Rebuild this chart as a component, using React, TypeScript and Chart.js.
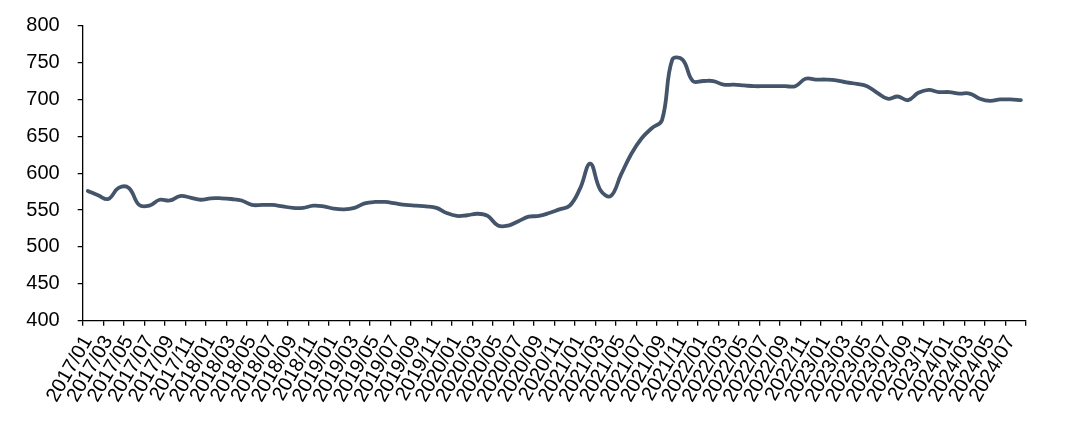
import React, { useEffect, useRef } from "react";
import { Chart, registerables } from "chart.js";

Chart.register(...registerables);

const categories: string[] = [
  "2017/01","2017/02","2017/03","2017/04","2017/05","2017/06","2017/07","2017/08","2017/09","2017/10","2017/11","2017/12",
  "2018/01","2018/02","2018/03","2018/04","2018/05","2018/06","2018/07","2018/08","2018/09","2018/10","2018/11","2018/12",
  "2019/01","2019/02","2019/03","2019/04","2019/05","2019/06","2019/07","2019/08","2019/09","2019/10","2019/11","2019/12",
  "2020/01","2020/02","2020/03","2020/04","2020/05","2020/06","2020/07","2020/08","2020/09","2020/10","2020/11","2020/12",
  "2021/01","2021/02","2021/03","2021/04","2021/05","2021/06","2021/07","2021/08","2021/09","2021/10","2021/11","2021/12",
  "2022/01","2022/02","2022/03","2022/04","2022/05","2022/06","2022/07","2022/08","2022/09","2022/10","2022/11","2022/12",
  "2023/01","2023/02","2023/03","2023/04","2023/05","2023/06","2023/07","2023/08","2023/09","2023/10","2023/11","2023/12",
  "2024/01","2024/02","2024/03","2024/04","2024/05","2024/06","2024/07","2024/08",
];

const values2017 = [576, 570, 565, 580, 580, 557, 556, 564, 563, 569, 567, 564];
const values2018 = [566, 566, 565, 563, 557, 557, 557, 555, 553, 553, 556, 555];
const values2019 = [552, 551, 553, 559, 561, 561, 559, 557, 556, 555, 553, 546];
const values2020 = [542, 543, 545, 542, 529, 529, 535, 541, 542, 546, 551, 556];
const values2021 = [579, 613, 577, 569, 598, 626, 647, 661, 672, 754, 754, 725];
const values2022 = [725, 725, 720, 720, 719, 718, 718, 718, 718, 718, 728, 727];
const values2023 = [727, 726, 723, 721, 718, 709, 701, 704, 699, 709, 713, 710];
const values2024 = [710, 708, 708, 701, 698, 700, 700, 699];

const seriesValues = [
  ...values2017, ...values2018, ...values2019, ...values2020,
  ...values2021, ...values2022, ...values2023, ...values2024,
];

const yMin = 400;
const yMax = 800;
const yStep = 50;

export default function App() {
  const ref = useRef<HTMLCanvasElement | null>(null);

  useEffect(() => {
    if (!ref.current) return;
    Chart.defaults.font.family = "'Liberation Sans', Arial, sans-serif";
    const chart = new Chart(ref.current, {
      type: "line",
      data: {
        labels: categories,
        datasets: [
          {
            data: seriesValues,
            borderColor: "#44546A",
            borderWidth: 3.8,
            pointRadius: 0,
            tension: 0.4,
            borderCapStyle: "round",
            borderJoinStyle: "round",
            fill: false,
          },
        ],
      },
      options: {
        animation: false,
        responsive: true,
        maintainAspectRatio: false,
        layout: { padding: { top: 17.7, right: 46, left: 0, bottom: 0 } },
        plugins: { legend: { display: false }, tooltip: { enabled: false } },
        scales: {
          x: {
            type: "category",
            offset: true,
            afterFit: (s: any) => { s.height = 93.3; },
            grid: {
              offset: true,
              drawOnChartArea: false,
              drawTicks: true,
              tickLength: 5,
              lineWidth: 1.3,
              color: (ctx: any) =>
                ctx.type !== "tick" || ctx.index % 2 === 0 ? "#000" : "rgba(0,0,0,0)",
            },
            border: { display: true, color: "#000", width: 1.3 },
            ticks: {
              autoSkip: false,
              minRotation: 60,
              maxRotation: 60,
              padding: 6,
              labelOffset: 0,
              color: "#000",
              font: { size: 20 },
              callback: (_v: any, index: number) => (index % 2 === 0 ? categories[index] : ""),
            },
          },
          y: {
            min: yMin,
            max: yMax,
            afterFit: (s: any) => { s.width = 74.7; },
            grid: {
              drawOnChartArea: false,
              drawTicks: true,
              tickLength: 18,
              tickBorderDash: [0, 13, 5, 1000],
              lineWidth: 1.3,
              color: "#000",
            },
            border: { display: true, color: "#000", width: 1.3 },
            ticks: {
              stepSize: yStep,
              padding: 5,
              color: "#000",
              font: { size: 20 },
            },
          },
        },
      },
    });
    return () => chart.destroy();
  }, []);

  return (
    <div style={{ width: 1064, height: 406, position: "relative" }}>
      <canvas ref={ref} />
    </div>
  );
}
